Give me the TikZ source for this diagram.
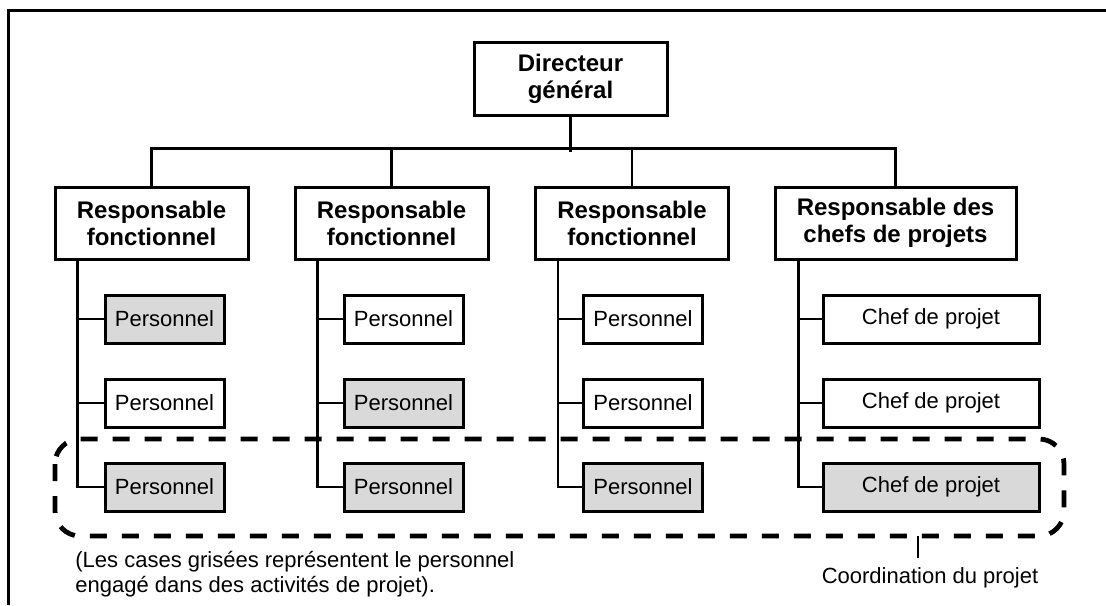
\documentclass[tikz,border=0pt]{standalone}
\usepackage{fontspec}
\setmainfont{Liberation Sans}
\usetikzlibrary{positioning}
\definecolor{grisclair}{RGB}{217,217,218}

\begin{document}
\begin{tikzpicture}[x=0.5pt, y=-0.5pt,
  caja/.style={draw, line width=1.5pt, inner sep=0pt, align=center},
  jefe/.style={caja, font=\fontsize{12}{13.5}\selectfont\bfseries, minimum width=96.5pt, minimum height=36pt},
  pers/.style={caja, font=\fontsize{11}{13}\selectfont, minimum width=59.5pt, minimum height=24pt},
  gris/.style={fill=grisclair},
  texto/.style={inner sep=0pt, align=left, font=\fontsize{11}{12.5}\selectfont},
  trait/.style={line width=1.4pt},
  coord/.style={line width=2.4pt, dash pattern=on 8.5pt off 7.5pt, rounded corners=12.5pt}]
  \useasboundingbox (0,0) rectangle (1106,605);
  \draw[line width=1.5pt] (8,605) -- (8,10) -- (1106,10);

  % Cajas
  \node[jefe, minimum height=36.5pt] (dg) at (570.5,78.5) {Directeur\\général};
  \node[jefe] (r1) at (151.5,223) {Responsable\\fonctionnel};
  \node[jefe] (r2) at (391.5,223) {Responsable\\fonctionnel};
  \node[jefe] (r3) at (632,223) {Responsable\\fonctionnel};
  \node[jefe, minimum width=120.5pt] (r4) at (895.5,223) {Responsable des\\chefs de projets};

  \node[pers, gris] (p11) at (164.5,319) {Personnel};
  \node[pers] (p12) at (164.5,403) {Personnel};
  \node[pers, gris] (p13) at (164.5,487) {Personnel};
  \node[pers] (p21) at (403.5,319) {Personnel};
  \node[pers, gris] (p22) at (403.5,403) {Personnel};
  \node[pers, gris] (p23) at (403.5,487) {Personnel};
  \node[pers] (p31) at (643,319) {Personnel};
  \node[pers] (p32) at (643,403) {Personnel};
  \node[pers, gris] (p33) at (643,487) {Personnel};
  \node[pers, minimum width=108pt] (c41) at (931,319) {Chef de projet};
  \node[pers, minimum width=108pt] (c42) at (931,403) {Chef de projet};
  \node[pers, gris, minimum width=108pt] (c43) at (931,487) {Chef de projet};

  % Lignes
  \draw[trait] (dg.south) -- ++(0,35);
  \draw[trait] (r1.north) -- ++(0,-37) -| (r4.north);
  \draw[trait] (r2.north) -- ++(0,-37);
  \draw[trait] (r3.north) -- ++(0,-37);

  \coordinate (t1) at ([xshift=12pt]r1.south west);
  \coordinate (t2) at ([xshift=12pt]r2.south west);
  \coordinate (t3) at ([xshift=12pt]r3.south west);
  \coordinate (t4) at ([xshift=12.5pt]r4.south west);
  \draw[trait] (t1) |- (p13.west);
  \draw[trait] (p11.west) -- (p11.west -| t1);
  \draw[trait] (p12.west) -- (p12.west -| t1);
  \draw[trait] (t2) |- (p23.west);
  \draw[trait] (p21.west) -- (p21.west -| t2);
  \draw[trait] (p22.west) -- (p22.west -| t2);
  \draw[trait] (t3) |- (p33.west);
  \draw[trait] (p31.west) -- (p31.west -| t3);
  \draw[trait] (p32.west) -- (p32.west -| t3);
  \draw[trait] (t4) |- (c43.west);
  \draw[trait] (c41.west) -- (c41.west -| t4);
  \draw[trait] (c42.west) -- (c42.west -| t4);

  % Coordination
  \draw[coord] (55,439) rectangle (1064,536);
  \coordinate (k1) at (918,536);
  \coordinate (k2) at (918,558);
  \draw[trait] (k1) -- (k2);
  \node[texto, anchor=base] (coordlbl) at (930,583) {Coordination du projet};
  \node[texto, anchor=north west] (nota) at (75,551) {(Les cases grisées représentent le personnel\\engagé dans des activités de projet).};
\end{tikzpicture}
\end{document}
